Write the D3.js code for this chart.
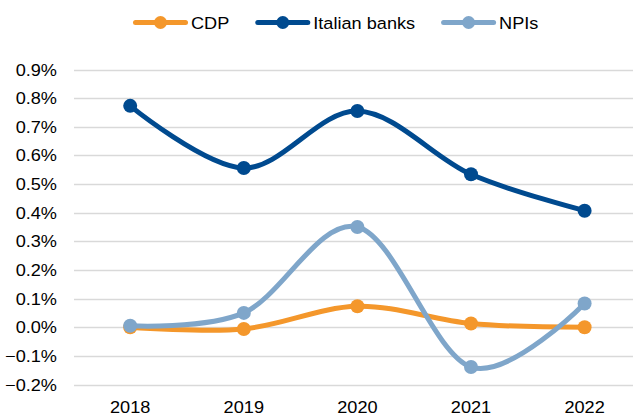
<!DOCTYPE html>
<html>
<head>
<meta charset="utf-8">
<script src="https://cdn.jsdelivr.net/npm/d3@7"></script>
<style>
  body { margin: 0; background: #fff; }
  text { font-family: Arial, "Liberation Sans", sans-serif; fill: #000; }
</style>
</head>
<body>
<div id="chart"></div>
<script>
// Chart data (shares, in %)
var years = ["2018", "2019", "2020", "2021", "2022"];
var seriesNames = ["CDP", "Italian banks", "NPIs"];
var seriesColors = ["#F4972B", "#004A8F", "#7FA6CA"];
var cdpValues = [0.0, -0.006, 0.073, 0.013, 0.0];
var bankValues = [0.773, 0.556, 0.755, 0.534, 0.407];
var npiValues = [0.005, 0.05, 0.35, -0.139, 0.083];
var yTicks = [-0.2, -0.1, 0.0, 0.1, 0.2, 0.3, 0.4, 0.5, 0.6, 0.7, 0.8, 0.9];

var width = 633, height = 415;
var fontSize = 16.5, stretch = 1.1; // labels are drawn a bit wide

var svg = d3.select("#chart")
  .append("svg")
  .attr("width", width)
  .attr("height", height);

// Scales
var x = d3.scalePoint()
  .domain(years)
  .range([130.2, 584.6]);

var y = d3.scaleLinear()
  .domain([-0.2, 0.9])
  .range([384.5, 69.5]);

// Horizontal grid lines
svg.append("g")
  .selectAll("line")
  .data(yTicks)
  .enter()
  .append("line")
  .attr("x1", 74)
  .attr("x2", width)
  .attr("y1", function(d) { return Math.round(y(d)) + 0.5; })
  .attr("y2", function(d) { return Math.round(y(d)) + 0.5; })
  .attr("stroke", "#d9d9d9")
  .attr("stroke-width", 1.5);

// Y axis labels
svg.append("g")
  .selectAll("text")
  .data(yTicks)
  .enter()
  .append("text")
  .attr("transform", function(d) { return "translate(57," + (y(d) + 6) + ") scale(" + stretch + ",1)"; })
  .attr("text-anchor", "end")
  .style("font-size", fontSize + "px")
  .text(function(d) { return d3.format(".1f")(d) + "%"; });

// X axis labels
svg.append("g")
  .selectAll("text")
  .data(years)
  .enter()
  .append("text")
  .attr("transform", function(d) { return "translate(" + x(d) + ",412.5) scale(" + stretch + ",1)"; })
  .attr("text-anchor", "middle")
  .style("font-size", fontSize + "px")
  .text(function(d) { return d; });

// Lines (Excel-style smoothing)
var allSeries = [cdpValues, bankValues, npiValues];
var line = d3.line()
  .x(function(d, i) { return x(years[i]); })
  .y(function(d) { return y(d); })
  .curve(d3.curveCardinal.tension(0));

// Draw in Excel order: CDP, Italian banks, NPIs on top
allSeries.forEach(function(vals, k) {
  var g = svg.append("g");
  g.append("path")
    .datum(vals)
    .attr("d", line)
    .attr("fill", "none")
    .attr("stroke", seriesColors[k])
    .attr("stroke-width", 5)
    .attr("stroke-linejoin", "round");
  g.selectAll("circle")
    .data(vals)
    .enter()
    .append("circle")
    .attr("cx", function(d, i) { return x(years[i]); })
    .attr("cy", function(d) { return y(d); })
    .attr("r", 7)
    .attr("fill", seriesColors[k]);
});

// Legend
var legend = svg.append("g");
var lx = 133, ly = 22.5;
seriesNames.forEach(function(name, k) {
  legend.append("line")
    .attr("x1", lx + 2.5).attr("x2", lx + 52.5)
    .attr("y1", ly).attr("y2", ly)
    .attr("stroke", seriesColors[k])
    .attr("stroke-width", 5)
    .attr("stroke-linecap", "round");
  legend.append("circle")
    .attr("cx", lx + 27.5).attr("cy", ly)
    .attr("r", 6.5)
    .attr("fill", seriesColors[k]);
  var t = legend.append("text")
    .attr("transform", "translate(" + (lx + 58) + "," + (ly + 6) + ") scale(" + stretch + ",1)")
    .style("font-size", fontSize + "px")
    .text(name);
  var w = t.node().getComputedTextLength() * stretch;
  lx = lx + 58 + w + 26;
});
</script>
</body>
</html>
